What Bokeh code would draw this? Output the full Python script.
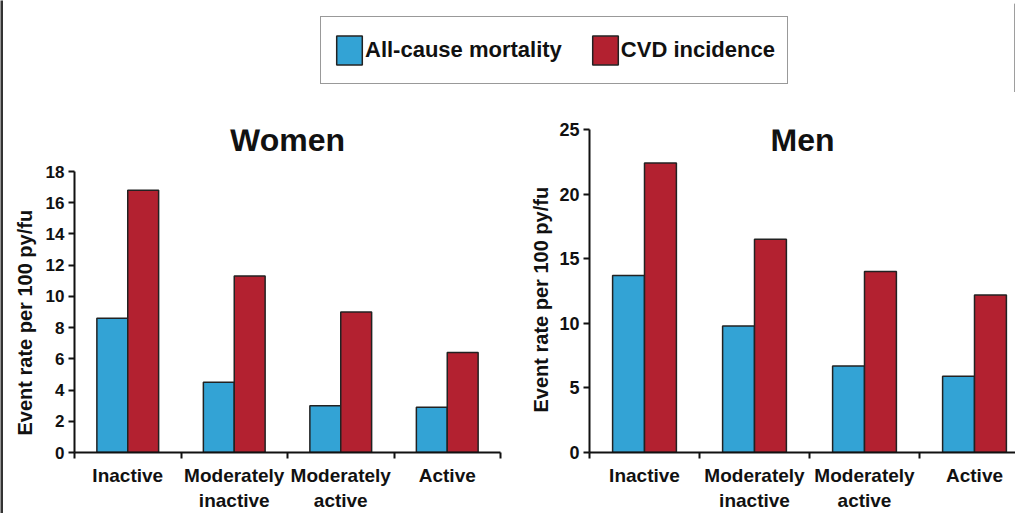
import numpy as np
from bokeh.plotting import figure
from bokeh.models import (Range1d, FixedTicker, Label, Legend, LegendItem,
                          ColumnDataSource, Title)
from bokeh.transform import dodge
from bokeh.layouts import row, column
from bokeh.embed import file_html
from bokeh.resources import INLINE

# ---------------- data ----------------
categories = ["Inactive", "Moderately inactive", "Moderately active", "Active"]
category_labels = ["Inactive", "Moderately\ninactive", "Moderately\nactive", "Active"]
series_names = ["All-cause mortality", "CVD incidence"]
women_mortality = [8.6, 4.5, 3.0, 2.9]
women_cvd = [16.8, 11.3, 9.0, 6.4]
men_mortality = [13.7, 9.8, 6.7, 5.9]
men_cvd = [22.4, 16.5, 14.0, 12.2]
women_yticks = [0, 2, 4, 6, 8, 10, 12, 14, 16, 18]
men_yticks = [0, 5, 10, 15, 20, 25]
panel_titles = ["Women", "Men"]
y_label = "Event rate per 100 py/fu"

# ---------------- style ----------------
BLUE = "#33a3d5"
RED = "#b32130"
EDGE = "#222222"
AXIS = "#111111"
FRAME = "#333333"
FONT = "Liberation Sans"
FRAME_H = 323  # shared frame height of both panels (px)


def make_panel(title, mort, cvd, yticks, px_per_unit, width, mb_left, mb_right,
               x_end, tick_size, ylabel_offset, ylabel_standoff, title_y):
    y_top = max(FRAME_H / px_per_unit, yticks[-1])
    p = figure(width=width, height=421,
               x_range=Range1d(-0.5, x_end),
               y_range=Range1d(yticks[0], y_top),
               output_backend="svg", toolbar_location=None,
               min_border_left=mb_left, min_border_right=mb_right,
               min_border_top=37, min_border_bottom=61)
    p.outline_line_color = None
    p.grid.visible = False
    p.background_fill_color = "white"
    p.border_fill_color = "white"

    idx = np.arange(len(categories))
    src = ColumnDataSource(dict(x=idx.tolist(), cat=categories, mort=mort, cvd=cvd))
    p.vbar(x=dodge("x", -0.145, range=p.x_range), top="mort", width=0.29,
           source=src, fill_color=BLUE, line_color=EDGE, line_width=1.5)
    p.vbar(x=dodge("x", 0.145, range=p.x_range), top="cvd", width=0.29,
           source=src, fill_color=RED, line_color=EDGE, line_width=1.5)

    # x axis: labels at category centres, ticks at category boundaries
    xa = p.xaxis[0]
    bounds = (np.arange(len(categories) + 1) - 0.5).tolist()
    xa.ticker = FixedTicker(ticks=idx.tolist(), minor_ticks=bounds)
    xa.major_label_overrides = {int(i): lab for i, lab in enumerate(category_labels)}
    xa.major_tick_line_color = None
    xa.major_tick_out = 0
    xa.major_tick_in = 0
    xa.minor_tick_out = 6
    xa.minor_tick_in = 0
    xa.minor_tick_line_color = AXIS
    xa.minor_tick_line_width = 2
    xa.axis_line_color = AXIS
    xa.axis_line_width = 2
    xa.major_label_standoff = 6
    xa.major_label_text_font = FONT
    xa.major_label_text_font_style = "bold"
    xa.major_label_text_font_size = "19px"
    xa.major_label_text_color = "#111111"

    ya = p.yaxis[0]
    ya.ticker = FixedTicker(ticks=yticks, minor_ticks=[])
    ya.bounds = (yticks[0], yticks[-1])
    ya.major_tick_out = 6
    ya.major_tick_in = 0
    ya.major_tick_line_color = AXIS
    ya.major_tick_line_width = 2
    ya.axis_line_color = AXIS
    ya.axis_line_width = 2
    ya.major_label_standoff = 4
    ya.major_label_text_font = FONT
    ya.major_label_text_font_style = "bold"
    ya.major_label_text_font_size = tick_size
    ya.major_label_text_color = "#111111"

    # vertical axis title, placed along the axis extent
    p.add_layout(Title(text=y_label, align="left", offset=ylabel_offset,
                       standoff=ylabel_standoff,
                       text_font=FONT, text_font_style="bold",
                       text_font_size="20px", text_color="#111111"), "left")

    p.add_layout(Label(x=(-0.5 + x_end) / 2, y=title_y, text=title,
                       text_align="center", text_baseline="alphabetic",
                       text_font=FONT, text_font_style="bold",
                       text_font_size="32px", text_color="#111111"))
    return p


women = make_panel(panel_titles[0], women_mortality, women_cvd, women_yticks,
                   px_per_unit=15.61, width=504, mb_left=71, mb_right=7,
                   x_end=3.5, tick_size="17px", ylabel_offset=17,
                   ylabel_standoff=14, title_y=20.0)
men = make_panel(panel_titles[1], men_mortality, men_cvd, men_yticks,
                 px_per_unit=12.92, width=508, mb_left=82, mb_right=0,
                 x_end=-0.5 + 426 / 110, tick_size="18px", ylabel_offset=40,
                 ylabel_standoff=10, title_y=24.2)

# ---------------- top strip with legend ----------------
top = figure(width=1012, height=89, x_range=Range1d(0, 1), y_range=Range1d(0, 1),
             output_backend="svg", toolbar_location=None, min_border=0,
             x_axis_location=None, y_axis_location=None)
top.grid.visible = False
top.outline_line_color = None
# legend proxies, placed outside the visible range
r1 = top.vbar(x=[5], top=[5], width=0.1, fill_color=BLUE, line_color=EDGE, line_width=1.5)
r2 = top.vbar(x=[5], top=[5], width=0.1, fill_color=RED, line_color=EDGE, line_width=1.5)
legend = Legend(items=[LegendItem(label=series_names[0], renderers=[r1]),
                       LegendItem(label=series_names[1], renderers=[r2])],
                orientation="horizontal", location=(317, 8),
                glyph_width=32, glyph_height=36, label_standoff=0,
                label_height=42, spacing=27, padding=12, margin=0,
                label_text_font=FONT, label_text_font_style="bold",
                label_text_font_size="22px", label_text_color="#111111",
                border_line_color=FRAME, border_line_width=1.5,
                background_fill_color="white", background_fill_alpha=1.0)
top.add_layout(legend, "center")


def frame_bar(w, h):
    b = figure(width=w, height=h, output_backend="svg", toolbar_location=None,
               min_border=0, x_axis_location=None, y_axis_location=None,
               x_range=Range1d(0, 1), y_range=Range1d(0, 1))
    b.grid.visible = False
    b.outline_line_color = None
    b.background_fill_color = FRAME
    b.border_fill_color = FRAME
    return b


left_bar = frame_bar(3, 513)
top_bar = frame_bar(1012, 3)

layout = row(left_bar, column(top_bar, top, row(women, men)))

open("out.html", "w").write(file_html(layout, INLINE))
